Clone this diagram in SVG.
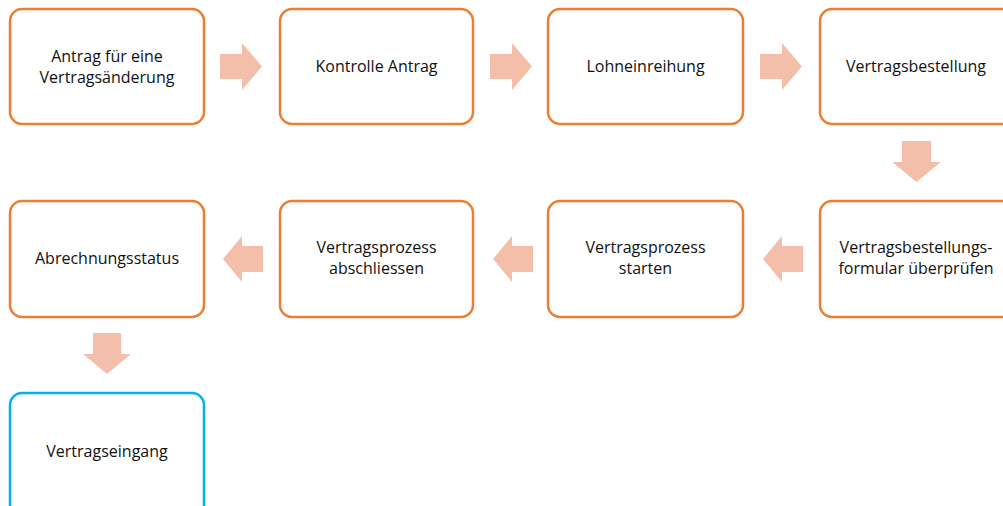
<svg xmlns="http://www.w3.org/2000/svg" width="1003" height="506" viewBox="0 0 1003 506">
<style>
.box{fill:#fff;stroke:#ED7D31;stroke-width:2.5}
.end{fill:#fff;stroke:#00B0F0;stroke-width:2.5}
.arr{fill:#F4BFAA}
text{font-family:"Open Sans","Liberation Sans",sans-serif;font-size:16px;fill:#111;text-anchor:middle}
</style>
<rect width="1003" height="506" fill="#fff"/>
<g id="connectors">
<polygon class="arr" points="220,54 242,54 242,43 262,66.5 242,90 242,79 220,79"/>
<polygon class="arr" points="490,54 512,54 512,43 532,66.5 512,90 512,79 490,79"/>
<polygon class="arr" points="760,54 782,54 782,43 802,66.5 782,90 782,79 760,79"/>
<polygon class="arr" points="902,141 931,141 931,162 941,162 916.5,182 892,162 902,162"/>
<polygon class="arr" points="803,246 782,246 782,236 763,259 782,282 782,272 803,272"/>
<polygon class="arr" points="533,246 512,246 512,236 493,259 512,282 512,272 533,272"/>
<polygon class="arr" points="263,246 242,246 242,236 223,259 242,282 242,272 263,272"/>
<polygon class="arr" points="93,333 121,333 121,354 131,354 107,374 83,354 93,354"/>
</g>
<g id="n1"><rect class="box" x="10" y="9" width="194" height="115" rx="12"/><text x="107" y="62">Antrag für eine</text><text x="107" y="83">Vertragsänderung</text></g>
<g id="n2"><rect class="box" x="280" y="9" width="193" height="115" rx="12"/><text x="376.5" y="72">Kontrolle Antrag</text></g>
<g id="n3"><rect class="box" x="548" y="9" width="195" height="115" rx="12"/><text x="645.5" y="72">Lohneinreihung</text></g>
<g id="n4"><rect class="box" x="820" y="9" width="200" height="115" rx="12"/><text x="916" y="72">Vertragsbestellung</text></g>
<g id="n5"><rect class="box" x="820" y="201" width="200" height="116" rx="12"/><text x="916" y="253">Vertragsbestellungs-</text><text x="916" y="274">formular überprüfen</text></g>
<g id="n6"><rect class="box" x="548" y="201" width="195" height="116" rx="12"/><text x="645.5" y="253">Vertragsprozess</text><text x="645.5" y="274">starten</text></g>
<g id="n7"><rect class="box" x="280" y="201" width="193" height="116" rx="12"/><text x="376.5" y="253">Vertragsprozess</text><text x="376.5" y="274">abschliessen</text></g>
<g id="n8"><rect class="box" x="10" y="201" width="194" height="116" rx="12"/><text x="107" y="264">Abrechnungsstatus</text></g>
<g id="n9"><rect class="end" x="10" y="393" width="194" height="130" rx="12"/><text x="107" y="457">Vertragseingang</text></g>
</svg>
